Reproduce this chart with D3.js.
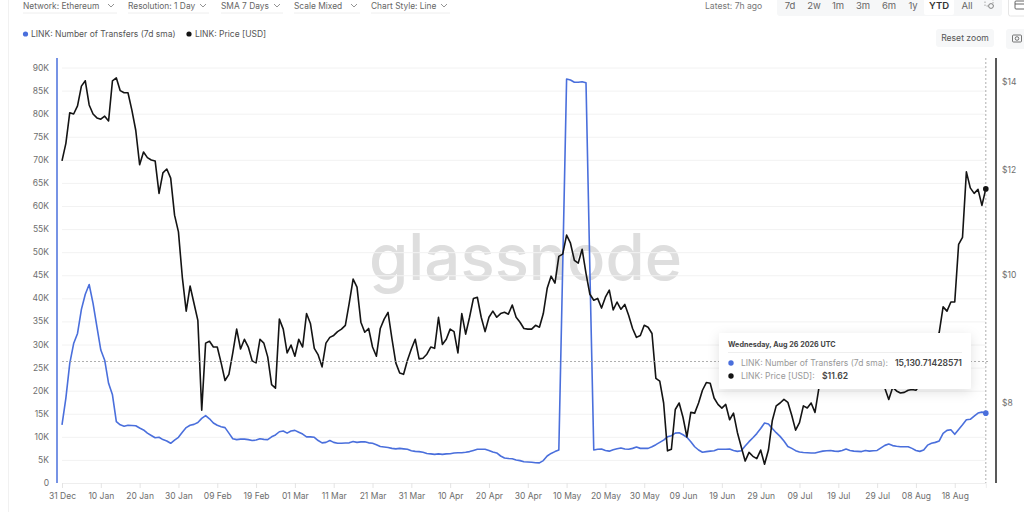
<!DOCTYPE html>
<html>
<head>
<meta charset="utf-8">
<script src="https://cdnjs.cloudflare.com/ajax/libs/d3/7.8.5/d3.min.js"></script>
<style>
  html, body { margin: 0; padding: 0; background: #fff; overflow: hidden; }
  svg { display: block; font-family: Inter, "Noto Sans", sans-serif; }
</style>
</head>
<body>
<svg id="chart" width="1024" height="512"></svg>
<script>
// daily values, one per day from 31 Dec 2025 to 26 Aug 2026
var transfers = [12.6,18.4,25.9,30.2,32.4,37.6,40.9,43.0,38.9,33.8,28.8,26.6,21.6,19.1,13.3,12.6,12.3,12.5,12.45,12.4,
  11.9,11.5,10.8,10.3,9.8,9.9,9.4,9.1,8.6,9.3,9.9,11.0,12.0,12.5,12.7,13.1,14.0,14.6,13.9,13.0,
  12.5,12.2,12.0,10.8,9.6,9.4,9.5,9.5,9.4,9.2,9.3,9.6,9.45,9.4,10.0,10.4,11.1,11.25,10.8,11.25,
  11.4,11.0,10.6,10.0,10.0,9.9,9.2,8.7,8.8,9.2,8.8,8.6,8.6,8.65,8.7,9.0,8.8,8.9,8.95,8.7,
  8.6,8.3,7.9,7.8,7.7,7.5,7.4,7.5,7.4,7.3,7.0,6.85,6.8,6.65,6.4,6.3,6.2,6.3,6.2,6.3,
  6.35,6.5,6.55,6.55,6.65,6.8,7.05,7.3,7.3,7.3,7.05,6.7,6.5,5.85,5.4,5.3,5.25,5.0,4.85,4.6,
  4.55,4.5,4.4,4.35,4.85,5.85,6.4,6.8,7.15,47.0,87.5,87.3,86.8,86.8,86.9,86.7,46.0,7.15,7.3,7.35,
  7.05,6.9,7.2,7.4,7.6,7.35,7.3,7.5,7.8,7.5,7.5,7.5,7.85,8.3,8.8,9.3,10.0,10.25,10.8,10.9,
  10.45,9.9,8.95,7.85,7.15,6.65,6.8,6.9,7.0,7.3,7.3,7.3,7.35,7.05,6.85,7.0,8.0,8.95,9.8,10.7,
  11.8,13.0,12.8,11.8,10.9,10.1,9.1,7.9,7.5,7.0,6.7,6.6,6.55,6.5,6.5,6.7,6.9,7.0,7.05,6.9,
  6.85,7.05,7.35,7.05,6.9,6.85,6.8,7.05,6.9,7.0,7.05,7.6,8.15,8.45,8.1,7.95,7.85,7.85,7.85,7.5,
  7.05,6.85,7.15,8.2,8.6,8.8,9.1,10.75,11.4,11.55,10.55,11.6,12.6,13.7,13.8,14.5,15.15,15.35,15.13];

var price = [12.20,12.58,13.27,13.24,13.43,13.90,14.03,13.45,13.24,13.15,13.12,13.19,13.08,14.03,14.10,13.79,13.74,13.74,13.33,12.87,
  12.12,12.39,12.27,12.22,12.20,11.53,11.95,12.03,11.84,11.10,10.78,9.96,9.39,9.81,9.52,9.24,7.90,8.88,8.91,8.82,
  8.82,8.58,8.32,8.41,8.73,9.10,8.79,8.94,8.82,8.61,8.58,8.94,8.88,8.67,8.26,8.21,9.26,9.10,8.73,8.85,
  8.68,8.94,8.82,9.35,9.19,8.80,8.70,8.52,8.88,8.97,9.00,9.06,9.10,9.16,9.52,9.93,9.79,9.21,9.05,9.11,
  8.82,8.68,9.11,9.26,9.37,8.95,8.58,8.43,8.41,8.62,8.79,8.94,8.64,8.65,8.71,8.82,8.80,9.29,8.86,8.94,
  9.10,9.06,8.73,9.35,9.02,9.29,9.60,9.62,9.29,9.06,9.29,9.39,9.29,9.35,9.37,9.34,9.49,9.29,9.21,9.11,
  9.10,9.10,9.16,9.13,9.35,9.77,9.98,9.86,10.33,10.37,10.72,10.57,10.26,10.21,10.46,10.03,9.67,9.57,9.60,9.44,
  9.62,9.74,9.41,9.54,9.42,9.50,9.32,9.11,8.97,9.00,9.16,9.13,9.03,8.35,8.31,8.00,7.36,7.38,7.91,8.00,
  7.80,7.54,7.87,7.86,8.00,8.18,8.29,8.28,8.07,7.98,7.93,7.98,7.77,7.86,7.60,7.41,7.23,7.34,7.29,7.26,
  7.37,7.19,7.37,7.76,7.96,8.00,8.05,8.01,7.83,7.63,7.73,7.96,7.93,8.00,7.87,8.21,8.45,8.70,8.80,8.74,
  8.85,8.77,8.65,8.74,8.59,8.47,8.55,8.45,8.35,8.47,8.38,8.29,8.21,8.05,8.22,8.17,8.14,8.15,8.18,8.19,
  8.18,8.25,8.35,8.32,8.50,8.74,9.05,9.46,9.39,9.54,9.54,10.55,10.68,11.97,11.64,11.53,11.61,11.29,11.62];

var leftTicks = [0,5,10,15,20,25,30,35,40,45,50,55,60,65,70,75,80,85,90];
var rightTicks = [8,10,12,14];
var dateTicks = ["31 Dec","10 Jan","20 Jan","30 Jan","09 Feb","19 Feb","01 Mar","11 Mar","21 Mar","31 Mar","10 Apr","20 Apr","30 Apr","10 May","20 May","30 May","09 Jun","19 Jun","29 Jun","09 Jul","19 Jul","29 Jul","08 Aug","18 Aug"];
var controls = ["Network: Ethereum","Resolution: 1 Day","SMA 7 Days","Scale Mixed","Chart Style: Line"];
var controlX = [23,128,221,294,371];
var controlW = [94,81,62,66,79];
var ranges = ["7d","2w","1m","3m","6m","1y","YTD","All"];
var rangeX = [790,814,838,863,889,913,939,967];

var BLUE = "#4a6fdc", BLACK = "#141414", GREY = "#6e6e6e";
var svg = d3.select("#chart");

// scales
var x = d3.scaleLinear().domain([0, 238]).range([62, 985.8]);
var y = d3.scaleLinear().domain([0, 90]).range([483, 67.5]);
var yPrice = d3.scaleLog().domain([8, 14]).range([403, 82]);

// page edge
svg.append("line").attr("x1", 8.5).attr("x2", 8.5).attr("y1", 0).attr("y2", 512).attr("stroke", "#f1f1f1");

// watermark
svg.append("text").attr("x", 369).attr("y", 280)
  .attr("font-family", "Inter, sans-serif").attr("font-size", 64).attr("font-weight", 500)
  .attr("textLength", 313).attr("lengthAdjust", "spacingAndGlyphs")
  .attr("fill", "#dedede").text("glassnode");

// grid and left axis labels
var left = svg.append("g");
left.selectAll("line").data(leftTicks).enter().append("line")
  .attr("x1", 62).attr("x2", 986)
  .attr("y1", function(d){ return y(d) + 0.5; }).attr("y2", function(d){ return y(d) + 0.5; })
  .attr("stroke", "#f2f2f2");
left.selectAll("text").data(leftTicks).enter().append("text")
  .attr("x", 49).attr("y", function(d){ return y(d) + 3; })
  .attr("text-anchor", "end").attr("font-size", 8.5).attr("fill", GREY)
  .text(function(d){ return d === 0 ? "0" : d + "K"; });

// axis lines
svg.append("line").attr("x1", 57).attr("x2", 57).attr("y1", 58).attr("y2", 483).attr("stroke", BLUE).attr("stroke-width", 1.5);
svg.append("line").attr("x1", 996).attr("x2", 996).attr("y1", 58).attr("y2", 483).attr("stroke", "#222").attr("stroke-width", 1.5);

// bottom axis
var bottom = d3.axisBottom(x)
  .tickValues(dateTicks.map(function(d, i){ return i * 10; }))
  .tickFormat(function(d, i){ return dateTicks[i]; })
  .tickSize(5).tickPadding(5);
var gx = svg.append("g").attr("transform", "translate(0,483)").call(bottom);
gx.select(".domain").attr("stroke", "#eeeeee");
gx.selectAll(".tick line").attr("stroke", "#e4e4e4");
gx.selectAll("text").attr("font-size", 8.5).attr("fill", GREY).attr("font-family", "Inter, sans-serif");

// right axis labels
svg.append("g").selectAll("text").data(rightTicks).enter().append("text")
  .attr("x", 1002).attr("y", function(d){ return yPrice(d) + 3; })
  .attr("font-size", 8.5).attr("fill", GREY).text(function(d){ return "$" + d; });

// series
var lineT = d3.line().x(function(d, i){ return x(i); }).y(function(d){ return y(d); });
var lineP = d3.line().x(function(d, i){ return x(i); }).y(function(d){ return yPrice(d); });
svg.append("path").datum(transfers).attr("d", lineT).attr("fill", "none").attr("stroke", BLUE).attr("stroke-width", 1.6).attr("stroke-linejoin", "round");
svg.append("path").datum(price).attr("d", lineP).attr("fill", "none").attr("stroke", BLACK).attr("stroke-width", 1.6).attr("stroke-linejoin", "round");

// crosshair
var lastI = transfers.length - 1;
svg.append("line").attr("x1", 62).attr("x2", 990).attr("y1", 361.5).attr("y2", 361.5)
  .attr("stroke", "#9a9a9a").attr("stroke-width", 0.8).attr("stroke-dasharray", "2,2");
svg.append("line").attr("x1", x(lastI)).attr("x2", x(lastI)).attr("y1", 58).attr("y2", 483)
  .attr("stroke", "#9a9a9a").attr("stroke-width", 0.8).attr("stroke-dasharray", "2,2");
svg.append("circle").attr("cx", x(lastI)).attr("cy", y(transfers[lastI])).attr("r", 2.8).attr("fill", BLUE);
svg.append("circle").attr("cx", x(lastI)).attr("cy", yPrice(price[lastI])).attr("r", 2.8).attr("fill", BLACK);

// top controls
var ctl = svg.append("g");
controls.forEach(function(c, i){
  ctl.append("text").attr("x", controlX[i]).attr("y", 9).attr("font-size", 8.4).attr("fill", "#666").text(c);
  ctl.append("path").attr("d", "M" + (controlX[i] + controlW[i] - 9) + " 4l3 3l3 -3").attr("fill", "none").attr("stroke", "#777").attr("stroke-width", 0.8);
  ctl.append("line").attr("x1", controlX[i]).attr("x2", controlX[i] + controlW[i]).attr("y1", 13).attr("y2", 13).attr("stroke", "#eeeeee");
});

// legend
svg.append("circle").attr("cx", 25.5).attr("cy", 34).attr("r", 2.6).attr("fill", BLUE);
svg.append("text").attr("x", 31).attr("y", 37).attr("font-size", 8.5).attr("fill", "#555").text("LINK: Number of Transfers (7d sma)");
svg.append("circle").attr("cx", 189).attr("cy", 34).attr("r", 2.6).attr("fill", BLACK);
svg.append("text").attr("x", 195).attr("y", 37).attr("font-size", 8.5).attr("fill", "#555").text("LINK: Price [USD]");

// range picker
svg.append("text").attr("x", 705).attr("y", 9).attr("font-size", 8.6).attr("fill", "#777").text("Latest: 7h ago");
svg.append("rect").attr("x", 777).attr("y", -6).attr("width", 225).attr("height", 22).attr("rx", 3).attr("fill", "#f6f7f8");
svg.append("rect").attr("x", 924).attr("y", -6).attr("width", 30).attr("height", 21).attr("rx", 2).attr("fill", "#fff");
ranges.forEach(function(r, i){
  svg.append("text").attr("x", rangeX[i]).attr("y", 9).attr("text-anchor", "middle").attr("font-size", 9.5)
    .attr("font-weight", r === "YTD" ? 600 : 400).attr("fill", r === "YTD" ? "#333" : "#666").text(r);
});
// zoom icon
svg.append("rect").attr("x", 985).attr("y", -2).attr("width", 8).attr("height", 8).attr("fill", "none").attr("stroke", "#888").attr("stroke-width", 0.7).attr("stroke-dasharray", "1.5,1.5");
svg.append("circle").attr("cx", 991).attr("cy", 6).attr("r", 2.4).attr("fill", "#f6f7f8").attr("stroke", "#666").attr("stroke-width", 0.8);
// calendar button
svg.append("rect").attr("x", 1008.5).attr("y", -6).attr("width", 30).attr("height", 22).attr("rx", 2).attr("fill", "#fff").attr("stroke", "#e6e6e6");
svg.append("rect").attr("x", 1015).attr("y", 1).attr("width", 10).attr("height", 8).attr("rx", 1).attr("fill", "none").attr("stroke", "#555").attr("stroke-width", 0.9);
svg.append("line").attr("x1", 1015).attr("x2", 1025).attr("y1", 4).attr("y2", 4).attr("stroke", "#555").attr("stroke-width", 0.9);

// reset zoom + camera
svg.append("rect").attr("x", 936).attr("y", 29).attr("width", 58).attr("height", 18).attr("rx", 3).attr("fill", "#f6f7f8");
svg.append("text").attr("x", 965).attr("y", 41).attr("text-anchor", "middle").attr("font-size", 8.6).attr("fill", "#555").text("Reset zoom");
svg.append("rect").attr("x", 1006).attr("y", 29).attr("width", 30).attr("height", 20).attr("rx", 3).attr("fill", "#f6f7f8");
svg.append("rect").attr("x", 1012.5).attr("y", 35).attr("width", 9).attr("height", 7).attr("rx", 1).attr("fill", "none").attr("stroke", "#555").attr("stroke-width", 0.8);
svg.append("circle").attr("cx", 1017).attr("cy", 38.5).attr("r", 1.8).attr("fill", "none").attr("stroke", "#555").attr("stroke-width", 0.8);

// tooltip
var defs = svg.append("defs");
var f = defs.append("filter").attr("id", "shadow").attr("x", "-10%").attr("y", "-20%").attr("width", "120%").attr("height", "150%");
f.append("feDropShadow").attr("dx", 0).attr("dy", 3).attr("stdDeviation", 6).attr("flood-color", "#000").attr("flood-opacity", 0.12);
var tip = svg.append("g");
tip.append("rect").attr("x", 719).attr("y", 333).attr("width", 252).attr("height", 56).attr("rx", 2).attr("fill", "#fff").attr("filter", "url(#shadow)");
tip.append("text").attr("x", 728).attr("y", 347).attr("font-size", 7.2).attr("font-weight", 700).attr("fill", "#444").text("Wednesday, Aug 26 2026 UTC");
tip.append("line").attr("x1", 728).attr("x2", 962).attr("y1", 352.5).attr("y2", 352.5).attr("stroke", "#eeeeee");
tip.append("circle").attr("cx", 731).attr("cy", 363).attr("r", 2.7).attr("fill", BLUE);
tip.append("text").attr("x", 741).attr("y", 366).attr("font-size", 8.5).attr("fill", "#999").text("LINK: Number of Transfers (7d sma):");
tip.append("text").attr("x", 962).attr("y", 366).attr("text-anchor", "end").attr("font-size", 8.6).attr("font-weight", 600).attr("fill", "#444").text("15,130.71428571");
tip.append("circle").attr("cx", 731).attr("cy", 376).attr("r", 2.7).attr("fill", BLACK);
tip.append("text").attr("x", 741).attr("y", 379).attr("font-size", 8.5).attr("fill", "#999").text("LINK: Price [USD]:");
tip.append("text").attr("x", 822).attr("y", 379).attr("font-size", 8.6).attr("font-weight", 600).attr("fill", "#444").text("$11.62");
</script>
</body>
</html>
